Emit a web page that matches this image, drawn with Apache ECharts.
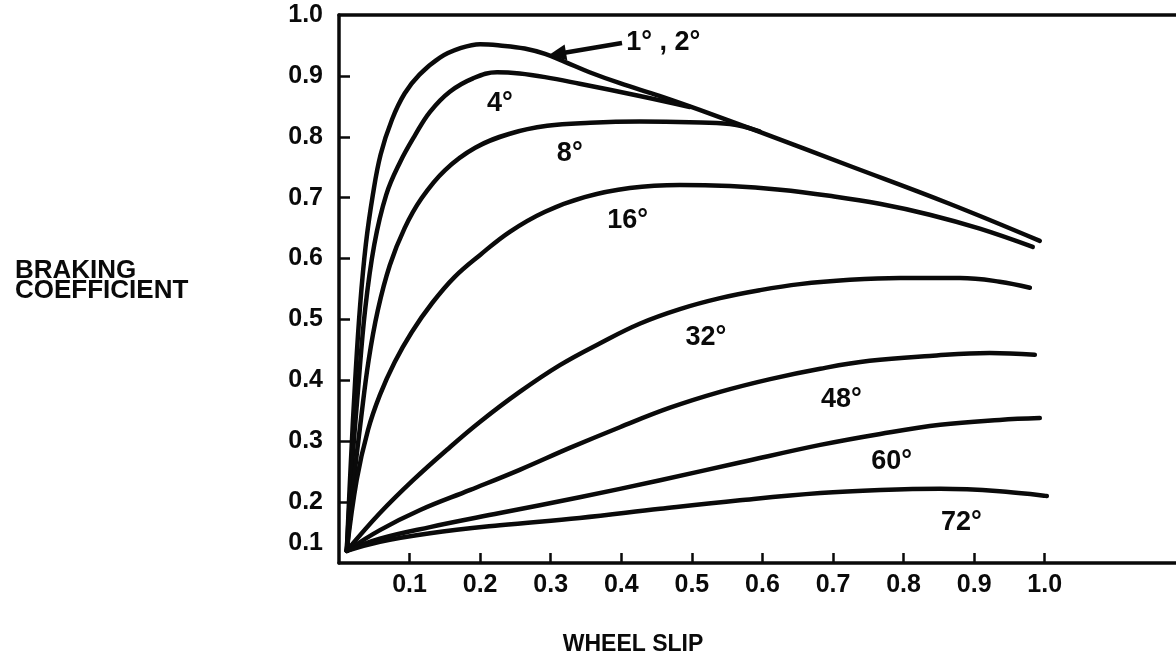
<!DOCTYPE html>
<html>
<head>
<meta charset="utf-8">
<title>Braking coefficient vs wheel slip</title>
<script src="https://cdn.jsdelivr.net/npm/echarts@6/dist/echarts.min.js"></script>
<style>
  html, body { margin: 0; padding: 0; background: #fff; }
  #chart { width: 1176px; height: 658px; }
</style>
</head>
<body>
<div id="chart"></div>
<script>
// Wheel slip values (x) and braking coefficients (y) for each slip angle
const slip1_2 = [0.011,0.017,0.023,0.030,0.038,0.048,0.059,0.075,0.093,0.114,0.143,0.171,0.200,0.228,0.263,0.292,0.320,0.355,0.398,0.454,0.511,0.596,0.724,0.865,0.993];
const coef1_2 = [0.120,0.270,0.401,0.524,0.623,0.705,0.771,0.828,0.871,0.902,0.930,0.945,0.952,0.950,0.945,0.936,0.923,0.906,0.888,0.867,0.844,0.808,0.752,0.690,0.629];

const slip4 = [0.011,0.018,0.027,0.037,0.050,0.067,0.086,0.108,0.129,0.157,0.190,0.224,0.256,0.292,0.341,0.426,0.497];
const coef4 = [0.120,0.253,0.385,0.516,0.623,0.705,0.757,0.803,0.841,0.874,0.896,0.906,0.904,0.898,0.887,0.867,0.849];

const slip8 = [0.011,0.021,0.031,0.042,0.055,0.072,0.093,0.117,0.150,0.193,0.242,0.295,0.356,0.426,0.497,0.554,0.596];
const coef8 = [0.120,0.236,0.335,0.433,0.515,0.589,0.650,0.699,0.745,0.782,0.805,0.818,0.823,0.825,0.824,0.821,0.809];

const slip16 = [0.011,0.025,0.041,0.058,0.079,0.103,0.132,0.164,0.200,0.242,0.292,0.348,0.412,0.483,0.554,0.625,0.695,0.766,0.837,0.908,0.983];
const coef16 = [0.120,0.236,0.318,0.376,0.430,0.479,0.527,0.570,0.606,0.644,0.677,0.701,0.716,0.721,0.719,0.713,0.703,0.690,0.672,0.649,0.619];

const slip32 = [0.011,0.058,0.105,0.153,0.200,0.256,0.313,0.370,0.426,0.483,0.540,0.596,0.653,0.724,0.795,0.880,0.936,0.979];
const coef32 = [0.120,0.182,0.236,0.286,0.332,0.381,0.425,0.461,0.493,0.517,0.535,0.548,0.558,0.565,0.568,0.568,0.562,0.552];

const slip48 = [0.011,0.058,0.115,0.186,0.256,0.327,0.398,0.469,0.540,0.611,0.682,0.752,0.837,0.922,0.986];
const coef48 = [0.120,0.154,0.187,0.220,0.253,0.289,0.323,0.355,0.381,0.402,0.419,0.432,0.440,0.445,0.442];

const slip60 = [0.011,0.058,0.129,0.228,0.341,0.455,0.568,0.682,0.767,0.852,0.936,0.993];
const coef60 = [0.120,0.140,0.159,0.182,0.208,0.236,0.265,0.294,0.312,0.327,0.335,0.338];

const slip72 = [0.011,0.058,0.129,0.228,0.341,0.455,0.568,0.682,0.767,0.852,0.936,1.003];
const coef72 = [0.120,0.135,0.149,0.162,0.174,0.189,0.203,0.215,0.220,0.222,0.218,0.210];

// Curve captions and where they sit (slip, coefficient)
const curveNames  = ['4°', '8°', '16°', '32°', '48°', '60°', '72°'];
const curveNameX  = [0.228, 0.327, 0.409, 0.520, 0.712, 0.783, 0.882];
const curveNameY  = [0.854, 0.773, 0.663, 0.471, 0.368, 0.266, 0.167];

// Caption for the shared 1°/2° curve, with its pointer arrow
const topCaption   = '1° , 2°';
const topCaptionAt = [0.407, 0.954];
const arrowFrom    = [0.401, 0.954];
const arrowTo      = [0.309, 0.936];

// Axis ticks and labels
const xTicks  = [0.1, 0.2, 0.3, 0.4, 0.5, 0.6, 0.7, 0.8, 0.9, 1.0];
const yTicks  = [0.2, 0.3, 0.4, 0.5, 0.6, 0.7, 0.8, 0.9];
const yLabels = [0.1, 0.2, 0.3, 0.4, 0.5, 0.6, 0.7, 0.8, 0.9, 1.0];

const xTitle = 'WHEEL SLIP';
const yTitle = 'BRAKING\nCOEFFICIENT';

const INK = '#0a0a0a';
const FONT = '"Liberation Sans", Arial, sans-serif';

const zip = (xs, ys) => xs.map((x, i) => [x, ys[i]]);

function curve(name, xs, ys, extra) {
  return Object.assign({
    name: name,
    type: 'line',
    data: zip(xs, ys),
    smooth: 0.4,
    symbol: 'none',
    lineStyle: { color: INK, width: 4.5, cap: 'round', join: 'round' },
    silent: true,
    z: 3
  }, extra || {});
}

function captions(name, items, position, size) {
  return {
    name: name,
    type: 'scatter',
    symbolSize: 0,
    silent: true,
    itemStyle: { opacity: 1 },
    data: items,
    label: {
      show: true, position: position, distance: 0, opacity: 1,
      formatter: p => p.name,
      fontFamily: FONT, fontWeight: 'bold', fontSize: size, color: INK
    },
    z: 4
  };
}

const chart = echarts.init(document.getElementById('chart'), null, { renderer: 'canvas' });

chart.setOption({
  animation: false,
  backgroundColor: '#fff',
  title: [
    {
      text: yTitle, left: 10, top: 256,
      textStyle: { fontFamily: FONT, fontWeight: 'bold', fontSize: 26, lineHeight: 20, color: INK }
    },
    {
      text: xTitle, left: 628, top: 628, textAlign: 'center',
      textStyle: { fontFamily: FONT, fontWeight: 'bold', fontSize: 23, color: INK }
    }
  ],
  grid: { left: 339, right: 0, top: 15, bottom: 95, containLabel: false },
  xAxis: [
    {
      type: 'value', min: 0, max: 1.186, interval: 0.1,
      splitLine: { show: false },
      axisLine: { lineStyle: { color: INK, width: 3.5 } },
      axisTick: { inside: true, length: 10, customValues: xTicks, lineStyle: { color: INK, width: 2.5 } },
      axisLabel: {
        customValues: xTicks, margin: 10,
        formatter: v => v.toFixed(1),
        fontFamily: FONT, fontWeight: 'bold', fontSize: 25, color: INK
      }
    },
    {
      type: 'value', position: 'top', min: 0, max: 1.186,
      splitLine: { show: false },
      axisLine: { show: true, lineStyle: { color: INK, width: 3.5 } },
      axisTick: { show: false },
      axisLabel: { show: false }
    }
  ],
  yAxis: {
    type: 'value', min: 0.1, max: 1.0, interval: 0.1,
    splitLine: { show: false },
    axisLine: { lineStyle: { color: INK, width: 3.5 } },
    axisTick: { inside: true, length: 11, customValues: yTicks, lineStyle: { color: INK, width: 2.5 } },
    axisLabel: {
      customValues: yLabels, margin: 16,
      formatter: v => (Math.abs(v - 0.1) < 1e-6 ? '{lo|0.1}' : v.toFixed(1)),
      fontFamily: FONT, fontWeight: 'bold', fontSize: 25, color: INK,
      rich: {
        lo: { fontFamily: FONT, fontWeight: 'bold', fontSize: 25, color: INK, padding: [0, 0, 40, 0] }
      }
    }
  },
  series: [
    curve('1°, 2°', slip1_2, coef1_2, {
      markLine: {
        silent: true,
        symbol: ['none', 'triangle'],
        symbolSize: [16, 18],
        label: { show: false },
        lineStyle: { color: INK, width: 4.5, type: 'solid' },
        data: [[{ coord: arrowFrom }, { coord: arrowTo }]]
      }
    }),
    curve('4°', slip4, coef4),
    curve('8°', slip8, coef8),
    curve('16°', slip16, coef16),
    curve('32°', slip32, coef32),
    curve('48°', slip48, coef48),
    curve('60°', slip60, coef60),
    curve('72°', slip72, coef72),
    captions('captions',
      curveNames.map((t, i) => ({ value: [curveNameX[i], curveNameY[i]], name: t })),
      'inside', 27),
    captions('topCaption', [{ value: topCaptionAt, name: topCaption }], 'right', 27)
  ]
});
</script>
</body>
</html>
